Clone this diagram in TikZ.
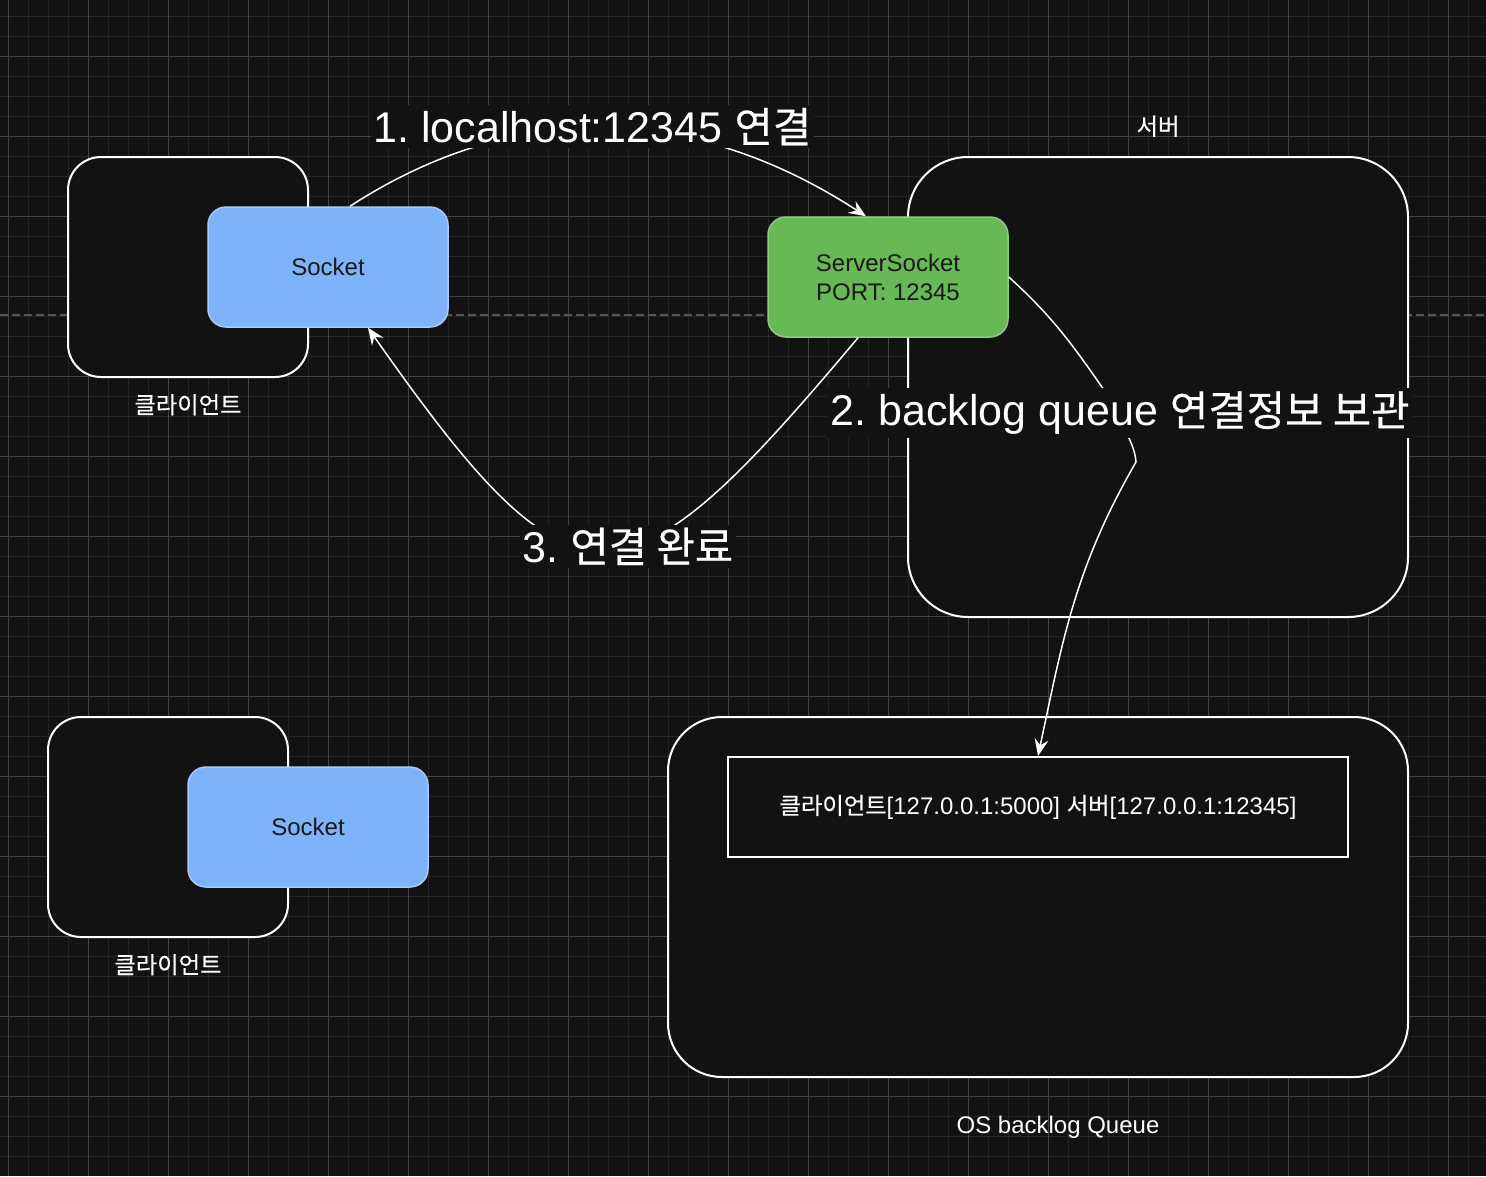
\documentclass[tikz,border=0pt]{standalone}
\usepackage{fontspec}
\setmainfont{Liberation Sans}
\newfontfamily\kr[Scale=0.97, FakeBold=0.4]{Noto Sans CJK KR}
\usetikzlibrary{arrows.meta, positioning}
\definecolor{canvasbg}{HTML}{121212}
\definecolor{gridminor}{HTML}{242424}
\definecolor{gridmajor}{HTML}{434343}
\definecolor{sockblue}{HTML}{7EB2F9}
\definecolor{sockedge}{HTML}{A9C9F9}
\definecolor{srvgreen}{HTML}{67B955}
\definecolor{srvedge}{HTML}{8DCC7E}
\frenchspacing

\begin{document}
\begin{tikzpicture}[
    x=1pt, y=1pt,
    minorline/.style={draw=gridminor, line width=1pt},
    majorline/.style={draw=gridmajor, line width=1pt},
    pagebreak/.style={draw=gridmajor!90!white, line width=1.5pt, dash pattern=on 8pt off 4pt},
    client/.style={rectangle, rounded corners=33pt, draw=white, line width=2pt, fill=canvasbg, minimum width=240pt, minimum height=220pt},
    sock/.style={rectangle, rounded corners=18pt, draw=sockedge, line width=1.5pt, fill=sockblue, minimum width=240pt, minimum height=120pt, text=black!90, font=\fontsize{24}{29}\selectfont},
    srvsock/.style={sock, draw=srvedge, fill=srvgreen, align=center},
    bigbox/.style={rectangle, draw=white, line width=2pt, fill=canvasbg},
    entrybox/.style={rectangle, draw=white, line width=2pt, fill=canvasbg, minimum width=620pt, minimum height=100pt, text=white, font=\fontsize{24}{29}\selectfont},
    capnote/.style={text=white, inner sep=2pt, font=\fontsize{24}{29}\selectfont},
    bigcap/.style={text=white, fill=canvasbg, inner sep=3pt, font=\fontsize{43}{50}\selectfont},
    arrow/.style={-{Stealth[length=17pt, width=14pt, inset=6pt]}, draw=white, line width=1.5pt}
]

\useasboundingbox (0,0) rectangle (1486,-1176);
\fill[canvasbg] (0,0) rectangle (1486,-1176);

% grid
\foreach \gx in {8,28,...,1468} \draw[minorline] (\gx,0) -- (\gx,-1176);
\foreach \gy in {16,36,...,1156} \draw[minorline] (0,-\gy) -- (1486,-\gy);
\foreach \gx in {8,88,...,1448} \draw[majorline] (\gx,0) -- (\gx,-1176);
\foreach \gy in {56,136,...,1096} \draw[majorline] (0,-\gy) -- (1486,-\gy);
\draw[pagebreak] (0,-315) -- (1486,-315);

% clients
\node[client] (client1) at (188,-267) {};
\node[sock] (sock1) at (328,-267) {Socket};
\node[capnote, below=14pt of client1] (clientcap1) {\kr 클라이언트};

\node[client] (client2) at (168,-827) {};
\node[sock] (sock2) at (308,-827) {Socket};
\node[capnote, below=14pt of client2] (clientcap2) {\kr 클라이언트};

% server
\node[bigbox, rounded corners=60pt, minimum width=500pt, minimum height=460pt] (server) at (1158,-387) {};
\node[capnote, above=17pt of server] (servercap) {\kr 서버};
\node[srvsock] (ssock) at (888,-277) {ServerSocket\\PORT: 12345};

% backlog queue
\node[bigbox, rounded corners=54pt, minimum width=740pt, minimum height=360pt] (osq) at (1038,-897) {};
\node[entrybox] (entry) at (1038,-807) {{\kr 클라이언트}[127.0.0.1:5000] {\kr 서버}[127.0.0.1:12345]};
\node[capnote, below=36pt of osq, xshift=20pt] (osqcap) {OS backlog Queue};

\coordinate (bend2a) at (1120,-413);
\coordinate (bend2b) at (1136,-462);

\draw[arrow] ([xshift=22pt]sock1.north) to[out=33, in=147] node[bigcap, pos=0.47, yshift=2pt] (lbl1) {1. localhost:12345 {\kr 연결}} ([xshift=-22pt]ssock.north);
\draw[arrow] (ssock.east) to[out=-42, in=125] (bend2a) node[bigcap] (lbl2) {2. backlog queue {\kr 연결정보 보관}} to[out=-80, in=95] (bend2b) to[out=-120, in=78] (entry.north);
\draw[arrow] ([xshift=-30pt]ssock.south) to[out=-130, in=-55, looseness=1.9] node[bigcap, pos=0.44] (lbl3) {3. {\kr 연결 완료}} ([xshift=40pt]sock1.south);

\end{tikzpicture}
\end{document}
